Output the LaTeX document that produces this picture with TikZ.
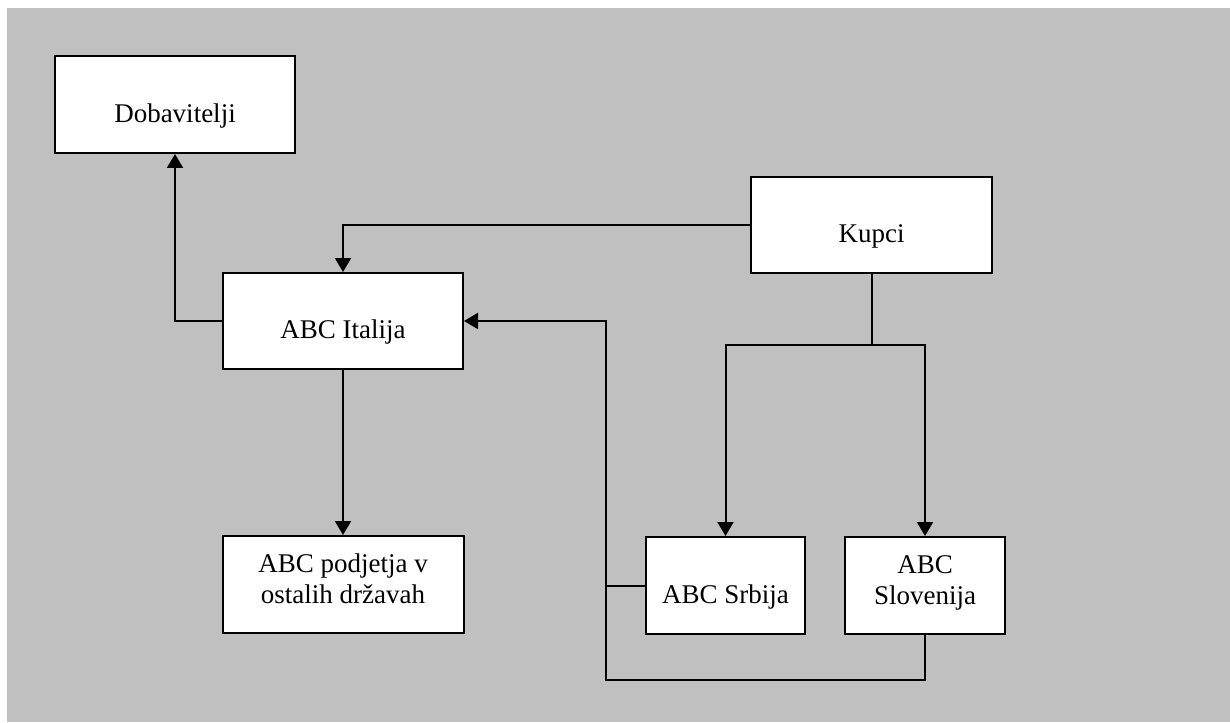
\documentclass[tikz,border=0pt]{standalone}
\usepackage{fontspec}
\setmainfont{Liberation Serif}
\usetikzlibrary{arrows.meta}
\definecolor{bggray}{HTML}{C0C0C0}
\tikzset{
  box/.style={draw=black, fill=white, line width=2pt, inner sep=0pt, minimum width=240pt, minimum height=97pt},
  lbl/.style={inner sep=0pt, font=\fontsize{27pt}{31pt}\selectfont, align=center},
  conn/.style={line width=2pt, draw=black},
  arr/.style={conn, -{Triangle[length=14pt,width=16pt]}}
}
\begin{document}
\begin{tikzpicture}[x=1pt,y=-1pt]
\useasboundingbox (0,0) rectangle (1230,722);
\fill[white] (0,0) rectangle (1230,722);
\fill[bggray] (7,8) rectangle (1230,722);
% boxes
\node[box] (dob) at (175,104.5) {};
\node[box, minimum width=241pt, minimum height=96pt] (kup) at (871.5,225) {};
\node[box, minimum height=96pt] (ita) at (343,321) {};
\node[box, minimum width=241pt] (pod) at (343,584.5) {};
\node[box, minimum width=159pt] (srb) at (725.5,585.5) {};
\node[box, minimum width=160pt] (slo) at (925,585.5) {};
% labels
\node[lbl, anchor=base] (tdob) at (175,123) {Dobavitelji};
\node[lbl, anchor=base] (tkup) at (871.5,242) {Kupci};
\node[lbl, anchor=base] (tita) at (343,338) {ABC Italija};
\node[lbl, anchor=north] (tpod) at (343,554) {ABC podjetja v\\ostalih državah};
\node[lbl, anchor=base] (tsrb) at (725.5,603) {ABC Srbija};
\node[lbl, anchor=north] (tslo) at (925,555) {ABC\\Slovenija};
% connector points
\coordinate (c1) at (175,321);
\coordinate (c2) at (343,225);
\coordinate (c3) at (871.5,345);
\coordinate (c4) at (725.5,345);
\coordinate (c5) at (925,345);
\coordinate (c6) at (925,680);
\coordinate (c7) at (606,680);
\coordinate (c8) at (606,321);
% connectors
\draw[arr] (ita.west) -- (c1) -- (dob.south);
\draw[arr] (kup.west) -- (c2) -- (ita.north);
\draw[arr] (ita.south) -- (pod.north);
\draw[conn] (kup.south) -- (c3);
\draw[arr] (c3) -- (c4) -- (srb.north);
\draw[arr] (c3) -- (c5) -- (slo.north);
\draw[arr] (slo.south) -- (c6) -- (c7) -- (c8) -- (ita.east);
\draw[conn] (srb.west) -- (srb.west -| c7);
\end{tikzpicture}
\end{document}
